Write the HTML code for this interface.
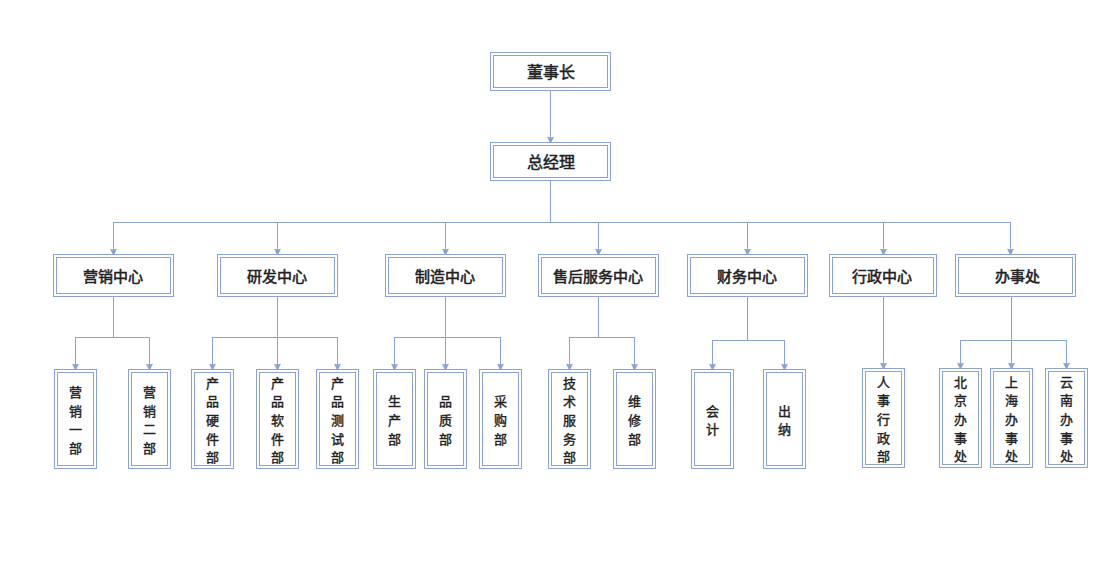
<!DOCTYPE html>
<html lang="zh-CN"><head><meta charset="utf-8"><title>组织架构图</title>
<style>
html,body{margin:0;padding:0;background:#fff;}
body{width:1116px;height:567px;position:relative;overflow:hidden;font-family:"Liberation Sans",sans-serif;}
svg{position:absolute;left:0;top:0;}
svg rect,svg path{fill:#8DA2D4;}
svg rect.b{fill:none;stroke:#8DA2D4;stroke-width:1;}
.t{position:absolute;display:flex;align-items:center;justify-content:center;color:#222;font-weight:normal;-webkit-text-stroke:0.3px #222;white-space:nowrap;}
.tp{font-size:16px;-webkit-text-stroke:0.5px #222;line-height:16px;padding-top:2px;box-sizing:border-box;}
.md{font-size:15px;-webkit-text-stroke:0.55px #222;line-height:15px;padding-top:1px;box-sizing:border-box;}
.lf{font-size:13px;-webkit-text-stroke:0.4px #222;line-height:18.6px;padding-top:4.5px;box-sizing:border-box;text-align:center;}
</style></head><body>
<svg width="1116" height="567" viewBox="0 0 1116 567" shape-rendering="crispEdges">
<rect x="550" y="91" width="1" height="51"/>
<rect x="550" y="181" width="1" height="42"/>
<rect x="113" y="222" width="898" height="1"/>
<rect x="113" y="222" width="1" height="32"/>
<rect x="277" y="222" width="1" height="32"/>
<rect x="445" y="222" width="1" height="32"/>
<rect x="598" y="222" width="1" height="32"/>
<rect x="747" y="222" width="1" height="32"/>
<rect x="883" y="222" width="1" height="32"/>
<rect x="1010" y="222" width="1" height="32"/>
<rect x="113" y="297" width="1" height="41"/>
<rect x="75" y="337" width="75" height="1"/>
<rect x="75" y="337" width="1" height="32"/>
<rect x="149" y="337" width="1" height="32"/>
<rect x="277" y="297" width="1" height="41"/>
<rect x="212" y="337" width="126" height="1"/>
<rect x="212" y="337" width="1" height="32"/>
<rect x="277" y="337" width="1" height="32"/>
<rect x="337" y="337" width="1" height="32"/>
<rect x="445" y="297" width="1" height="41"/>
<rect x="394" y="337" width="107" height="1"/>
<rect x="394" y="337" width="1" height="32"/>
<rect x="445" y="337" width="1" height="32"/>
<rect x="500" y="337" width="1" height="32"/>
<rect x="598" y="297" width="1" height="41"/>
<rect x="569" y="337" width="66" height="1"/>
<rect x="569" y="337" width="1" height="32"/>
<rect x="634" y="337" width="1" height="32"/>
<rect x="747" y="297" width="1" height="44"/>
<rect x="712" y="340" width="73" height="1"/>
<rect x="712" y="340" width="1" height="29"/>
<rect x="784" y="340" width="1" height="29"/>
<rect x="883" y="297" width="1" height="71"/>
<rect x="1011" y="297" width="1" height="44"/>
<rect x="960" y="340" width="107" height="1"/>
<rect x="960" y="340" width="1" height="28"/>
<rect x="1011" y="340" width="1" height="28"/>
<rect x="1066" y="340" width="1" height="28"/>
<path shape-rendering="geometricPrecision" d="M547.0 136.7 L550.5 137.4 L554.0 136.7 L551.5 142 L549.5 142 Z"/>
<path shape-rendering="geometricPrecision" d="M110.0 248.7 L113.5 249.4 L117.0 248.7 L114.5 254 L112.5 254 Z"/>
<path shape-rendering="geometricPrecision" d="M274.0 248.7 L277.5 249.4 L281.0 248.7 L278.5 254 L276.5 254 Z"/>
<path shape-rendering="geometricPrecision" d="M442.0 248.7 L445.5 249.4 L449.0 248.7 L446.5 254 L444.5 254 Z"/>
<path shape-rendering="geometricPrecision" d="M595.0 248.7 L598.5 249.4 L602.0 248.7 L599.5 254 L597.5 254 Z"/>
<path shape-rendering="geometricPrecision" d="M744.0 248.7 L747.5 249.4 L751.0 248.7 L748.5 254 L746.5 254 Z"/>
<path shape-rendering="geometricPrecision" d="M880.0 248.7 L883.5 249.4 L887.0 248.7 L884.5 254 L882.5 254 Z"/>
<path shape-rendering="geometricPrecision" d="M1007.0 248.7 L1010.5 249.4 L1014.0 248.7 L1011.5 254 L1009.5 254 Z"/>
<path shape-rendering="geometricPrecision" d="M72.0 363.7 L75.5 364.4 L79.0 363.7 L76.5 369 L74.5 369 Z"/>
<path shape-rendering="geometricPrecision" d="M146.0 363.7 L149.5 364.4 L153.0 363.7 L150.5 369 L148.5 369 Z"/>
<path shape-rendering="geometricPrecision" d="M209.0 363.7 L212.5 364.4 L216.0 363.7 L213.5 369 L211.5 369 Z"/>
<path shape-rendering="geometricPrecision" d="M274.0 363.7 L277.5 364.4 L281.0 363.7 L278.5 369 L276.5 369 Z"/>
<path shape-rendering="geometricPrecision" d="M334.0 363.7 L337.5 364.4 L341.0 363.7 L338.5 369 L336.5 369 Z"/>
<path shape-rendering="geometricPrecision" d="M391.0 363.7 L394.5 364.4 L398.0 363.7 L395.5 369 L393.5 369 Z"/>
<path shape-rendering="geometricPrecision" d="M442.0 363.7 L445.5 364.4 L449.0 363.7 L446.5 369 L444.5 369 Z"/>
<path shape-rendering="geometricPrecision" d="M497.0 363.7 L500.5 364.4 L504.0 363.7 L501.5 369 L499.5 369 Z"/>
<path shape-rendering="geometricPrecision" d="M566.0 363.7 L569.5 364.4 L573.0 363.7 L570.5 369 L568.5 369 Z"/>
<path shape-rendering="geometricPrecision" d="M631.0 363.7 L634.5 364.4 L638.0 363.7 L635.5 369 L633.5 369 Z"/>
<path shape-rendering="geometricPrecision" d="M709.0 363.7 L712.5 364.4 L716.0 363.7 L713.5 369 L711.5 369 Z"/>
<path shape-rendering="geometricPrecision" d="M781.0 363.7 L784.5 364.4 L788.0 363.7 L785.5 369 L783.5 369 Z"/>
<path shape-rendering="geometricPrecision" d="M880.0 362.7 L883.5 363.4 L887.0 362.7 L884.5 368 L882.5 368 Z"/>
<path shape-rendering="geometricPrecision" d="M957.0 362.7 L960.5 363.4 L964.0 362.7 L961.5 368 L959.5 368 Z"/>
<path shape-rendering="geometricPrecision" d="M1008.0 362.7 L1011.5 363.4 L1015.0 362.7 L1012.5 368 L1010.5 368 Z"/>
<path shape-rendering="geometricPrecision" d="M1063.0 362.7 L1066.5 363.4 L1070.0 362.7 L1067.5 368 L1065.5 368 Z"/>
<rect class="b" x="490.5" y="52.5" width="120" height="38"/>
<rect class="b" x="493.5" y="55.5" width="114" height="32"/>
<rect class="b" x="490.5" y="142.5" width="120" height="38"/>
<rect class="b" x="493.5" y="145.5" width="114" height="32"/>
<rect class="b" x="53.5" y="254.5" width="120" height="42"/>
<rect class="b" x="56.5" y="257.5" width="114" height="36"/>
<rect class="b" x="217.5" y="254.5" width="120" height="42"/>
<rect class="b" x="220.5" y="257.5" width="114" height="36"/>
<rect class="b" x="385.5" y="254.5" width="120" height="42"/>
<rect class="b" x="388.5" y="257.5" width="114" height="36"/>
<rect class="b" x="538.5" y="254.5" width="120" height="42"/>
<rect class="b" x="541.5" y="257.5" width="114" height="36"/>
<rect class="b" x="687.5" y="254.5" width="120" height="42"/>
<rect class="b" x="690.5" y="257.5" width="114" height="36"/>
<rect class="b" x="829.5" y="254.5" width="107" height="42"/>
<rect class="b" x="832.5" y="257.5" width="101" height="36"/>
<rect class="b" x="955.5" y="254.5" width="120" height="42"/>
<rect class="b" x="958.5" y="257.5" width="114" height="36"/>
<rect class="b" x="54.5" y="369.5" width="42" height="99"/>
<rect class="b" x="57.5" y="372.5" width="36" height="93"/>
<rect class="b" x="128.5" y="369.5" width="42" height="99"/>
<rect class="b" x="131.5" y="372.5" width="36" height="93"/>
<rect class="b" x="191.5" y="369.5" width="42" height="99"/>
<rect class="b" x="194.5" y="372.5" width="36" height="93"/>
<rect class="b" x="256.5" y="369.5" width="42" height="99"/>
<rect class="b" x="259.5" y="372.5" width="36" height="93"/>
<rect class="b" x="316.5" y="369.5" width="42" height="99"/>
<rect class="b" x="319.5" y="372.5" width="36" height="93"/>
<rect class="b" x="373.5" y="369.5" width="42" height="99"/>
<rect class="b" x="376.5" y="372.5" width="36" height="93"/>
<rect class="b" x="424.5" y="369.5" width="42" height="99"/>
<rect class="b" x="427.5" y="372.5" width="36" height="93"/>
<rect class="b" x="479.5" y="369.5" width="42" height="99"/>
<rect class="b" x="482.5" y="372.5" width="36" height="93"/>
<rect class="b" x="548.5" y="369.5" width="42" height="99"/>
<rect class="b" x="551.5" y="372.5" width="36" height="93"/>
<rect class="b" x="613.5" y="369.5" width="42" height="99"/>
<rect class="b" x="616.5" y="372.5" width="36" height="93"/>
<rect class="b" x="691.5" y="369.5" width="42" height="99"/>
<rect class="b" x="694.5" y="372.5" width="36" height="93"/>
<rect class="b" x="763.5" y="369.5" width="42" height="99"/>
<rect class="b" x="766.5" y="372.5" width="36" height="93"/>
<rect class="b" x="862.5" y="368.5" width="42" height="99"/>
<rect class="b" x="865.5" y="371.5" width="36" height="93"/>
<rect class="b" x="939.5" y="368.5" width="42" height="99"/>
<rect class="b" x="942.5" y="371.5" width="36" height="93"/>
<rect class="b" x="990.5" y="368.5" width="42" height="99"/>
<rect class="b" x="993.5" y="371.5" width="36" height="93"/>
<rect class="b" x="1045.5" y="368.5" width="42" height="99"/>
<rect class="b" x="1048.5" y="371.5" width="36" height="93"/>
</svg>
<div class="t tp" style="left:490px;top:52px;width:121px;height:39px">董事长</div>
<div class="t tp" style="left:490px;top:142px;width:121px;height:39px">总经理</div>
<div class="t md" style="left:52px;top:254px;width:121px;height:43px">营销中心</div>
<div class="t md" style="left:216px;top:254px;width:121px;height:43px">研发中心</div>
<div class="t md" style="left:384px;top:254px;width:121px;height:43px">制造中心</div>
<div class="t md" style="left:537px;top:254px;width:121px;height:43px">售后服务中心</div>
<div class="t md" style="left:686px;top:254px;width:121px;height:43px">财务中心</div>
<div class="t md" style="left:828px;top:254px;width:108px;height:43px">行政中心</div>
<div class="t md" style="left:957px;top:254px;width:121px;height:43px">办事处</div>
<div class="t lf" style="left:54px;top:369px;width:43px;height:100px"><span>营<br>销<br>一<br>部</span></div>
<div class="t lf" style="left:128px;top:369px;width:43px;height:100px"><span>营<br>销<br>二<br>部</span></div>
<div class="t lf" style="left:191px;top:369px;width:43px;height:100px"><span>产<br>品<br>硬<br>件<br>部</span></div>
<div class="t lf" style="left:256px;top:369px;width:43px;height:100px"><span>产<br>品<br>软<br>件<br>部</span></div>
<div class="t lf" style="left:316px;top:369px;width:43px;height:100px"><span>产<br>品<br>测<br>试<br>部</span></div>
<div class="t lf" style="left:373px;top:369px;width:43px;height:100px"><span>生<br>产<br>部</span></div>
<div class="t lf" style="left:424px;top:369px;width:43px;height:100px"><span>品<br>质<br>部</span></div>
<div class="t lf" style="left:479px;top:369px;width:43px;height:100px"><span>采<br>购<br>部</span></div>
<div class="t lf" style="left:548px;top:369px;width:43px;height:100px"><span>技<br>术<br>服<br>务<br>部</span></div>
<div class="t lf" style="left:613px;top:369px;width:43px;height:100px"><span>维<br>修<br>部</span></div>
<div class="t lf" style="left:691px;top:369px;width:43px;height:100px"><span>会<br>计</span></div>
<div class="t lf" style="left:763px;top:369px;width:43px;height:100px"><span>出<br>纳</span></div>
<div class="t lf" style="left:862px;top:368px;width:43px;height:100px"><span>人<br>事<br>行<br>政<br>部</span></div>
<div class="t lf" style="left:939px;top:368px;width:43px;height:100px"><span>北<br>京<br>办<br>事<br>处</span></div>
<div class="t lf" style="left:990px;top:368px;width:43px;height:100px"><span>上<br>海<br>办<br>事<br>处</span></div>
<div class="t lf" style="left:1045px;top:368px;width:43px;height:100px"><span>云<br>南<br>办<br>事<br>处</span></div>
</body></html>
